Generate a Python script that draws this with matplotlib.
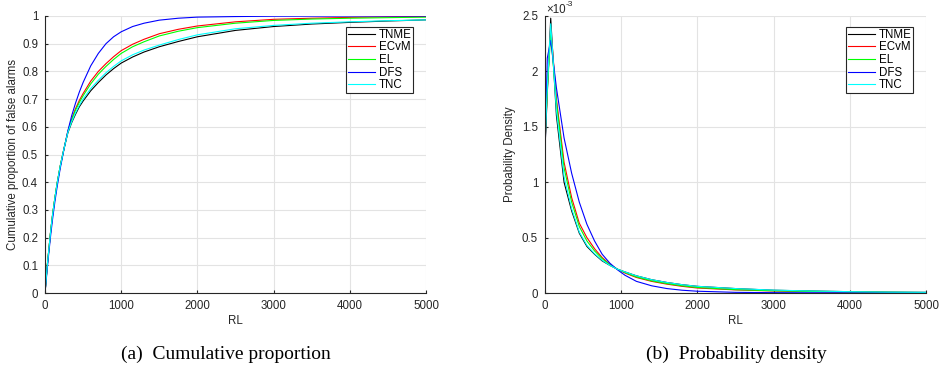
import numpy as np
import matplotlib
matplotlib.use('Agg')
import matplotlib.pyplot as plt
from matplotlib.ticker import FuncFormatter

# series names and colours (MATLAB style)
methods = ['TNME', 'ECvM', 'EL', 'DFS', 'TNC']
colors = ['k', 'r', '#00ff00', 'b', '#00ffff']

# (a) cumulative proportion of false alarms vs RL
rl_cdf = [0, 15, 30, 50, 75, 100, 130, 160, 200, 250, 300, 350, 400, 450, 500, 600, 700, 800,
          900, 1000, 1150, 1300, 1500, 1750, 2000, 2500, 3000, 3500, 4000, 4500, 5000]
cdf_tnme = [0, 0.05, 0.10, 0.155, 0.225, 0.283, 0.343, 0.397, 0.458, 0.522, 0.578, 0.615, 0.645,
            0.672, 0.693, 0.73, 0.76, 0.787, 0.81, 0.83, 0.852, 0.87, 0.889, 0.908, 0.925,
            0.948, 0.962, 0.971, 0.977, 0.982, 0.986]
cdf_ecvm = [0, 0.05, 0.10, 0.155, 0.225, 0.283, 0.343, 0.397, 0.458, 0.522, 0.584, 0.628, 0.665,
            0.695, 0.72, 0.765, 0.80, 0.828, 0.853, 0.875, 0.898, 0.916, 0.936, 0.952, 0.964,
            0.979, 0.988, 0.992, 0.995, 0.997, 0.998]
cdf_el = [0, 0.05, 0.10, 0.155, 0.225, 0.283, 0.343, 0.397, 0.458, 0.522, 0.582, 0.625, 0.66,
          0.688, 0.712, 0.755, 0.79, 0.818, 0.843, 0.865, 0.889, 0.907, 0.928, 0.945, 0.958,
          0.974, 0.984, 0.989, 0.992, 0.994, 0.996]
cdf_dfs = [0, 0.043, 0.09, 0.145, 0.21, 0.268, 0.33, 0.385, 0.45, 0.52, 0.585, 0.64, 0.685,
           0.725, 0.76, 0.82, 0.865, 0.90, 0.925, 0.943, 0.962, 0.974, 0.985, 0.992, 0.996,
           0.998, 0.9993, 0.9997, 1.0, 1.0, 1.0]
cdf_tnc = [0, 0.05, 0.10, 0.155, 0.225, 0.283, 0.343, 0.397, 0.458, 0.522, 0.58, 0.618, 0.65,
           0.677, 0.70, 0.738, 0.768, 0.795, 0.818, 0.838, 0.86, 0.877, 0.895, 0.915, 0.932,
           0.954, 0.966, 0.974, 0.979, 0.983, 0.986]

# (b) probability density vs RL (units of 1e-3)
rl_pdf = [0, 30, 75, 150, 250, 350, 450, 550, 650, 750, 850, 950, 1050, 1200,
          1400, 1600, 1800, 2000, 2500, 3000, 3500, 4000, 4500, 5000]
pdf_tnme = [1.30, 1.80, 2.48, 1.60, 1.00, 0.74, 0.54, 0.42, 0.35, 0.29, 0.25, 0.215, 0.19, 0.155,
            0.12, 0.095, 0.075, 0.06, 0.04, 0.025, 0.018, 0.012, 0.008, 0.006]
pdf_ecvm = [1.33, 1.85, 2.40, 1.75, 1.18, 0.86, 0.63, 0.50, 0.40, 0.32, 0.26, 0.215, 0.18, 0.14,
            0.105, 0.08, 0.06, 0.045, 0.028, 0.018, 0.012, 0.008, 0.005, 0.003]
pdf_el = [1.33, 1.83, 2.34, 1.72, 1.13, 0.82, 0.60, 0.47, 0.38, 0.31, 0.255, 0.215, 0.185, 0.145,
          0.11, 0.085, 0.065, 0.05, 0.03, 0.02, 0.014, 0.009, 0.006, 0.004]
pdf_dfs = [1.23, 2.12, 2.28, 1.85, 1.40, 1.08, 0.82, 0.62, 0.47, 0.35, 0.27, 0.21, 0.16, 0.105,
           0.065, 0.04, 0.025, 0.016, 0.006, 0.003, 0.002, 0.001, 0.001, 0.0005]
pdf_tnc = [1.36, 1.86, 2.43, 1.65, 1.05, 0.76, 0.55, 0.43, 0.355, 0.295, 0.25, 0.215, 0.19, 0.155,
           0.12, 0.095, 0.075, 0.06, 0.04, 0.026, 0.018, 0.012, 0.008, 0.006]

cdfs = [cdf_tnme, cdf_ecvm, cdf_el, cdf_dfs, cdf_tnc]
pdfs = [pdf_tnme, pdf_ecvm, pdf_el, pdf_dfs, pdf_tnc]

plt.rcParams['font.family'] = ['Liberation Sans', 'DejaVu Sans']
fs = 8.3
plt.rcParams['font.size'] = fs

fig = plt.figure(figsize=(9.4, 3.7), dpi=100)
ax1 = fig.add_axes([45/940, 77/370, 381/940, 277/370])
ax2 = fig.add_axes([545/940, 77/370, 381/940, 277/370])


def style(ax):
    ax.grid(True, color='#e3e3e3', linewidth=0.8)
    ax.set_axisbelow(True)
    for s in ['top', 'right']:
        ax.spines[s].set_visible(False)
    for s in ['left', 'bottom']:
        ax.spines[s].set_color('#262626')
        ax.spines[s].set_linewidth(0.8)
    ax.tick_params(direction='in', length=2.5, width=0.8, color='#262626',
                   labelcolor='#262626', labelsize=fs, pad=5)
    ax.set_xlim(0, 5000)
    ax.set_xticks([0, 1000, 2000, 3000, 4000, 5000])
    ax.set_xlabel('RL', fontsize=fs, labelpad=2, color='#262626')


for vals, name, c in zip(cdfs, methods, colors):
    ax1.plot(rl_cdf, vals, color=c, lw=0.8, label=name)
style(ax1)
ax1.set_ylim(0, 1)
ax1.set_yticks(np.arange(0, 1.01, 0.1))
ax1.yaxis.set_major_formatter(FuncFormatter(lambda v, p: '%g' % round(v, 2)))
ax1.set_ylabel('Cumulative proportion of false alarms', fontsize=fs, labelpad=2, color='#262626')

for vals, name, c in zip(pdfs, methods, colors):
    ax2.plot(rl_pdf, np.array(vals) * 1e-3, color=c, lw=0.8, label=name)
style(ax2)
ax2.set_ylim(0, 2.5e-3)
ax2.set_yticks(np.arange(0, 2.51e-3, 0.5e-3))
ax2.yaxis.set_major_formatter(FuncFormatter(lambda v, p: '%g' % round(v * 1e3, 2)))
ax2.set_ylabel('Probability Density', fontsize=fs, labelpad=4, color='#262626')
# exponent label above the y axis
ax2.text(0.003, 1.012, '\u00d710', transform=ax2.transAxes, fontsize=fs,
         ha='left', va='baseline', color='#262626')
ax2.text(0.055, 1.035, '-3', transform=ax2.transAxes, fontsize=6,
         ha='left', va='baseline', color='#262626')

for ax in [ax1, ax2]:
    leg = ax.legend(loc='upper right', bbox_to_anchor=(0.967, 0.96), fontsize=fs,
                    fancybox=False, framealpha=1, edgecolor='#262626',
                    handlelength=2.4, handletextpad=0.3, borderpad=0.15,
                    labelspacing=0.05, borderaxespad=0)
    leg.get_frame().set_linewidth(0.8)

fig.text(226/940, 1 - 354/370, '(a)  Cumulative proportion', family='Liberation Serif',
         fontsize=14, ha='center', va='center')
fig.text(736/940, 1 - 354/370, '(b)  Probability density', family='Liberation Serif',
         fontsize=14, ha='center', va='center')

fig.savefig('out.png', dpi=100)
